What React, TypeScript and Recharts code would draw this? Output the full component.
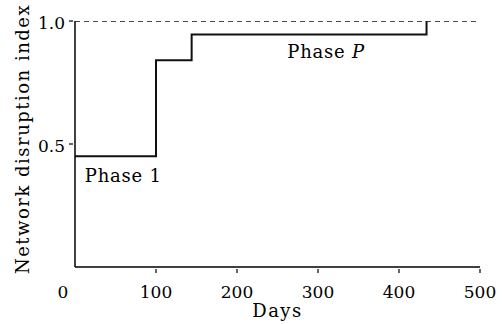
import React from 'react';
import { LineChart, Line, XAxis, YAxis, ReferenceDot } from 'recharts';

const stepDays = [0, 100, 144, 434];
const stepIndex = [0.45, 0.84, 0.945, 1.0];
const limitDays = [0, 500];
const limitIndex = [1, 1];
const xTicks = [0, 100, 200, 300, 400, 500];
const yTicks = [0.5, 1.0];
const phaseX = [12, 262];
const phaseY = [0.347, 0.848];
const phaseMain = ['Phase', 'Phase'];
const phaseSuffix = ['1', 'P'];
const phaseItalic = [false, true];

const stepData = stepDays.map((d, i) => ({ x: d, y: stepIndex[i] }));
const limitData = limitDays.map((d, i) => ({ x: d, y: limitIndex[i] }));

const FONT = "'DejaVu Serif', serif";

const X_MARGIN = 13;
const Y_MARGIN = 4;

const XTick = (props: any) => {
  const { x, y, payload } = props;
  const dx = payload.value === 0 ? -12 : 0;
  const axisY = y - X_MARGIN;
  return (
    <g>
      {payload.value !== 0 && (
        <line x1={x} x2={x} y1={axisY} y2={axisY - 4} stroke="#000" strokeWidth={1.2} />
      )}
      <text x={x + dx} y={y + 12} textAnchor="middle" fontSize={17} fontFamily={FONT} fill="#000">
        {payload.value}
      </text>
    </g>
  );
};

const YTick = (props: any) => {
  const { x, y, payload } = props;
  const axisX = x + Y_MARGIN;
  return (
    <g>
      <line x1={axisX} x2={axisX + 4} y1={y} y2={y} stroke="#000" strokeWidth={1.2} />
      <text x={x} y={y + 8} textAnchor="end" fontSize={17} fontFamily={FONT} fill="#000">
        {Number(payload.value).toFixed(1)}
      </text>
    </g>
  );
};

const makePhaseShape = (i: number) => (props: any) => {
  const { cx, cy } = props;
  return (
    <text x={cx} y={cy} fontSize={18} fontFamily={FONT} fill="#000" letterSpacing={0.8}>
      {phaseMain[i]}{' '}
      <tspan fontStyle={phaseItalic[i] ? 'italic' : 'normal'}>{phaseSuffix[i]}</tspan>
    </text>
  );
};

const YLabel = (props: any) => {
  const { viewBox } = props;
  const cx = 29;
  const cy = viewBox.y + viewBox.height / 2 - 5;
  return (
    <text
      x={cx}
      y={cy}
      transform={`rotate(-90 ${cx} ${cy})`}
      textAnchor="middle"
      fontSize={18}
      fontFamily={FONT}
      fill="#000"
      letterSpacing={1.5}
    >
      Network disruption index
    </text>
  );
};

const XLabel = (props: any) => {
  const { viewBox } = props;
  const cx = viewBox.x + viewBox.width / 2;
  return (
    <text x={cx} y={317} textAnchor="middle" fontSize={18} fontFamily={FONT} fill="#000" letterSpacing={1.5}>
      Days
    </text>
  );
};

export default function App() {
  return (
    <div style={{ position: 'absolute', left: 0, top: 0, width: 502, height: 324, background: '#fff' }}>
      <LineChart width={502} height={324} margin={{ top: 21, right: 22, bottom: 0, left: 0 }}>
        <XAxis
          type="number"
          dataKey="x"
          domain={[0, 500]}
          ticks={xTicks}
          height={57}
          tickLine={false}
          tickMargin={X_MARGIN}
          tick={<XTick />}
          axisLine={{ stroke: '#000', strokeWidth: 1.5 }}
          label={<XLabel />}
          allowDataOverflow
        />
        <YAxis
          type="number"
          domain={[0, 1]}
          ticks={yTicks}
          width={75}
          tickLine={false}
          tickMargin={Y_MARGIN}
          tick={<YTick />}
          axisLine={{ stroke: '#000', strokeWidth: 1.5 }}
          label={<YLabel />}
          allowDataOverflow
        />
        <Line
          data={limitData}
          dataKey="y"
          type="linear"
          stroke="#111"
          strokeWidth={1.5}
          strokeDasharray="5 4"
          dot={false}
          activeDot={false}
          isAnimationActive={false}
        />
        <Line
          data={stepData}
          dataKey="y"
          type="stepAfter"
          stroke="#111"
          strokeWidth={2}
          dot={false}
          activeDot={false}
          isAnimationActive={false}
        />
        {phaseX.map((px, i) => (
          <ReferenceDot key={i} x={px} y={phaseY[i]} r={0} shape={makePhaseShape(i)} />
        ))}
      </LineChart>
    </div>
  );
}
